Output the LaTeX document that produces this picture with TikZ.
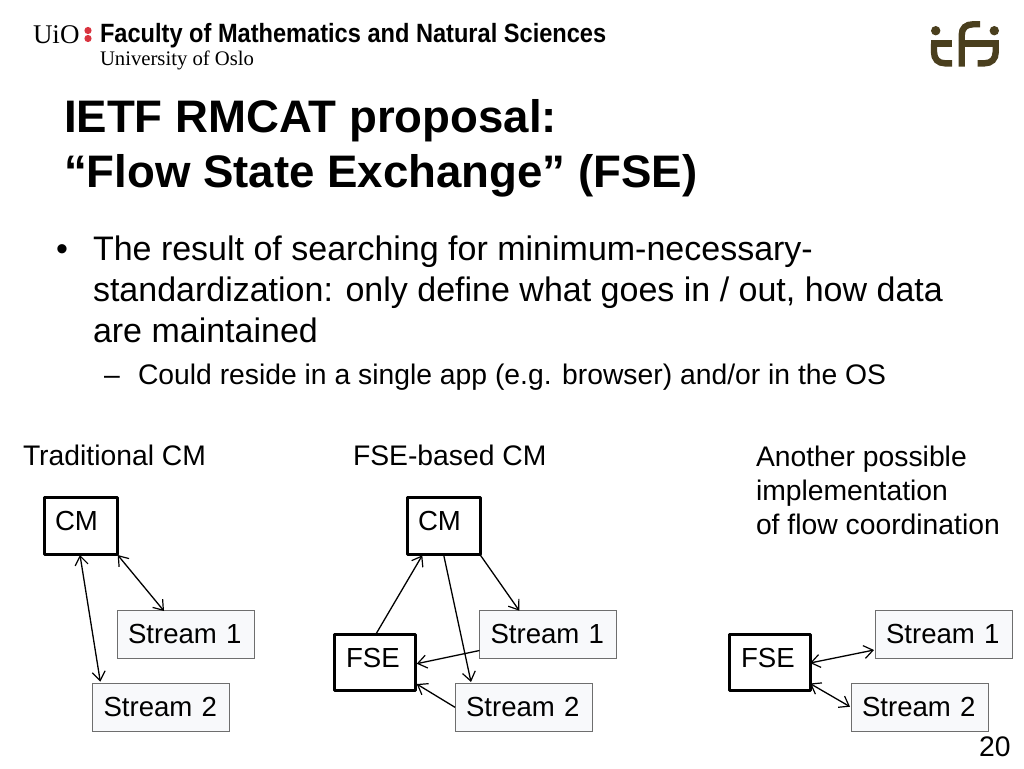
\documentclass[tikz,border=0pt]{standalone}
\usepackage{fontspec}
\usepackage{graphicx}
\setmainfont{Liberation Sans}
\newfontfamily\logoserif{Liberation Serif}
\usetikzlibrary{arrows.meta}
\definecolor{streamfill}{HTML}{F8F9FB}
\definecolor{streamline}{HTML}{6E6E6E}
\definecolor{logobrown}{HTML}{4A3F1E}
\definecolor{logored}{HTML}{D9333F}
\tikzset{
  x=1pt,y=-1pt,
  txt/.style={inner sep=0pt,outer sep=0pt,align=left,anchor=base west,font=\fontsize{28.3}{34}\selectfont},
  basebox/.style={rectangle,inner ysep=0pt,outer sep=0pt,align=left,font=\fontsize{27.6}{34}\selectfont,anchor=north west},
  mainbox/.style={basebox,draw=black,line width=3pt,fill=white,line join=round},
  cmbox/.style={mainbox,inner xsep=11pt,text width=51pt,text height=33pt,text depth=24pt},
  fsebox/.style={mainbox,inner xsep=12pt,text width=57pt,text height=32.5pt,text depth=23.5pt},
  streambox/.style={basebox,draw=streamline,line width=1pt,fill=streamfill,inner xsep=11pt,text width=115pt,text height=33pt,text depth=15pt},
  link/.style={draw=black,line width=1.3pt},
  tipend/.tip={Straight Barb[length=9pt,width=13pt,line width=1.2pt]},
  oneway/.style={link,-tipend},
  twoway/.style={link,tipend-tipend},
  logostroke/.style={draw=logobrown,line width=6.4pt,line cap=butt}
}
\begin{document}
\begin{tikzpicture}
\useasboundingbox[fill=white] (0,0) rectangle (1024,768);
% header
\node[txt,font=\logoserif\fontsize{27}{27}\selectfont] (uio) at (33,44) {UiO};
\fill[logored] (88,30.5) circle (3.6);
\fill[logored] (88,38.5) circle (3.6);
\node[txt,font=\bfseries\fontsize{23.6}{24}\selectfont] (faculty) at (100,43) {\scalebox{1}[1.12]{Faculty of Mathematics and Natural Sciences}};
\node[txt,font=\logoserif\fontsize{20.7}{21}\selectfont] (oslo) at (100,66) {University of Oslo};
% ifi logo
\fill[logobrown] (935.7,30.7) circle (4.7);
\fill[logobrown] (994.3,30.7) circle (4.7);
\draw[logostroke] (931,43.7) -- (951.7,43.7);
\draw[logostroke] (934,43.7) -- (934,52) .. controls (934,59) and (938,63.3) .. (945,63.3) -- (952,63.3);
\draw[logostroke] (961.7,66.7) -- (961.7,35) .. controls (961.7,28) and (966,24.3) .. (973,24.3) -- (980,24.3);
\draw[logostroke] (958.5,43.7) -- (999,43.7);
\draw[logostroke] (995.7,43.7) -- (995.7,52) .. controls (995.7,59) and (991.5,63.3) .. (984.5,63.3) -- (977.5,63.3);
% title
\node[txt,font=\bfseries\fontsize{45.6}{55}\selectfont] (title1) at (64,132) {IETF RMCAT proposal:};
\node[txt,font=\bfseries\fontsize{45.6}{55}\selectfont] (title2) at (64,187) {“Flow State Exchange” (FSE)};
% body
\node[txt,font=\fontsize{34}{41}\selectfont] (bullet) at (56,260) {•};
\node[txt,font=\fontsize{34}{41}\selectfont] (b1) at (93,260) {The result of searching for minimum-necessary-};
\node[txt,font=\fontsize{34}{41}\selectfont] (b2) at (93,301) {standardization: only define what goes in / out, how data};
\node[txt,font=\fontsize{34}{41}\selectfont] (b3) at (93,342) {are maintained};
\node[txt] (dash) at (104,384) {–};
\node[txt] (sub) at (138,384) {Could reside in a single app (e.g. browser) and/or in the OS};
% headings
\node[txt] (h1) at (23,465) {Traditional CM};
\node[txt] (h2) at (353,465) {FSE-based CM};
\node[txt] (h3a) at (756,466) {Another possible};
\node[txt] (h3b) at (756,500) {implementation};
\node[txt] (h3c) at (756,534) {of flow coordination};
\node[txt] (page) at (979,756) {20};
% left diagram
\node[cmbox] (cmA) at (44,497) {CM};
\node[streambox] (s1A) at (117,610) {Stream 1};
\node[streambox] (s2A) at (92.5,683) {Stream 2};
\draw[twoway] ([shift={(0.7pt,-1pt)}]cmA.south east) -- ([shift={(47pt,-1pt)}]s1A.north west);
\draw[twoway] ([shift={(36pt,-1pt)}]cmA.south west) -- ([shift={(7.8pt,1.3pt)}]s2A.north west);
% middle diagram
\node[cmbox] (cmB) at (407,497) {CM};
\node[fsebox] (fseB) at (334,634.5) {FSE};
\node[streambox] (s1B) at (479.5,610) {Stream 1};
\node[streambox] (s2B) at (455,683) {Stream 2};
\draw[oneway] ([xshift=41.7pt]fseB.north west) -- ([shift={(15.3pt,-1.3pt)}]cmB.south west);
\draw[oneway] ([shift={(36.7pt,-1pt)}]cmB.south west) -- ([shift={(16pt,1pt)}]s2B.north west);
\draw[oneway] ([shift={(0.3pt,-1pt)}]cmB.south east) -- ([shift={(39.8pt,-0.7pt)}]s1B.north west);
\draw[oneway] ([yshift=7.5pt]s1B.south west) -- ([shift={(1.7pt,26.8pt)}]fseB.south east);
\draw[oneway] ([yshift=-24.3pt]s2B.north west) -- ([shift={(1.7pt,6.5pt)}]fseB.south east);
% right diagram
\node[fsebox] (fseC) at (729,634.5) {FSE};
\node[streambox] (s1C) at (875,610) {Stream 1};
\node[streambox] (s2C) at (851,683) {Stream 2};
\draw[twoway] ([yshift=27.5pt]fseC.south east) -- ([shift={(-1pt,8pt)}]s1C.south west);
\draw[twoway] ([yshift=7pt]fseC.south east) -- ([shift={(-1pt,-23.7pt)}]s2C.north west);
\end{tikzpicture}
\end{document}
